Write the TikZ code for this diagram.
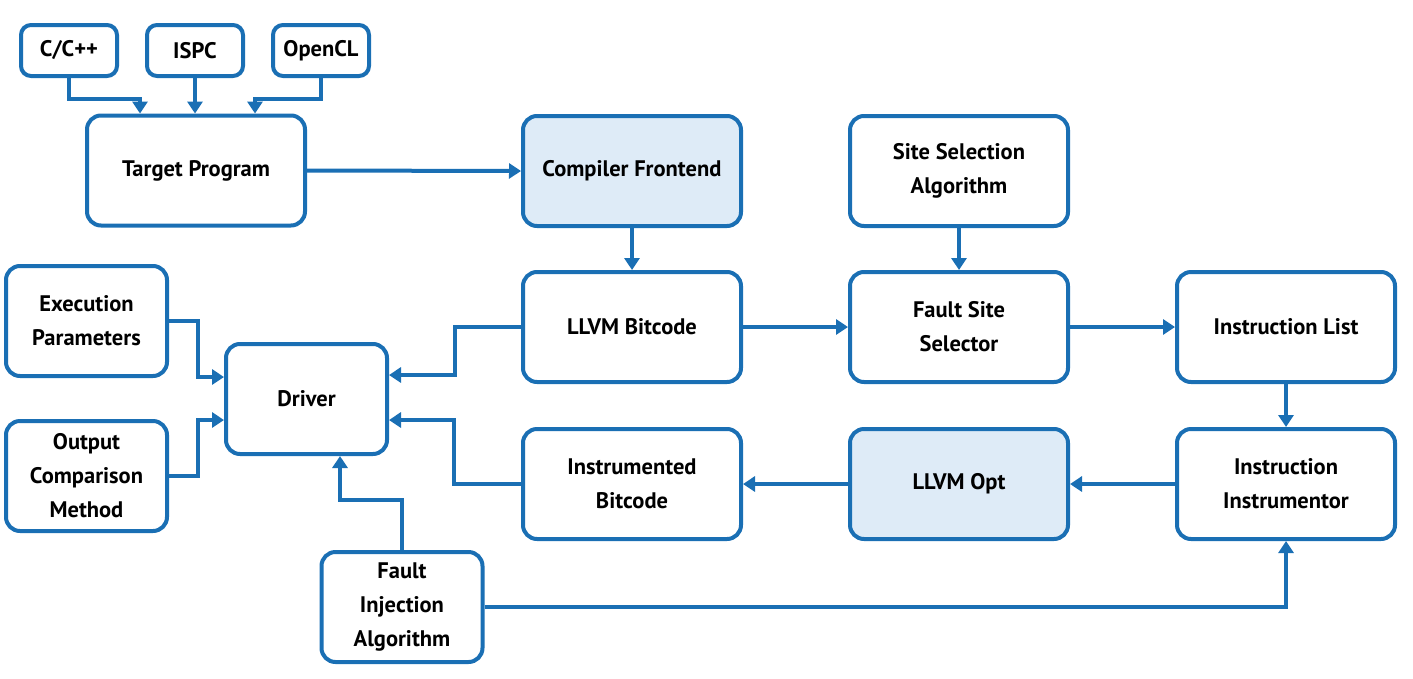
\documentclass[tikz,border=0pt]{standalone}
\usepackage{fontspec}
\setmainfont{PT Sans}
\usetikzlibrary{arrows.meta}
\definecolor{bblue}{HTML}{1A6FB4}
\definecolor{bfill}{HTML}{DEEBF7}
\begin{document}
\begin{tikzpicture}[x=1pt,y=-1pt,
  box/.style={draw=bblue, line width=4pt, rounded corners=14pt, fill=white,
    align=center, inner sep=0pt, font=\fontsize{22.5}{34}\selectfont\bfseries,
    minimum width=218pt, minimum height=110pt},
  small/.style={box, minimum width=96pt, minimum height=51pt, rounded corners=10pt},
  mid/.style={box, minimum width=161pt},
  hl/.style={fill=bfill},
  conn/.style={draw=bblue, line width=4pt, -{Triangle[length=12pt,width=15pt]}}]
\useasboundingbox (0,0) rectangle (1413,678);
% nodes
\node[small] (cpp) at (69,50.5) {C/C++};
\node[small] (ispc) at (195,50.5) {ISPC};
\node[small] (opencl) at (321,50.5) {OpenCL};
\node[box] (target) at (196,170.5) {Target Program};
\node[box,hl] (frontend) at (632,171) {Compiler Frontend};
\node[box] (sitesel) at (959,171) {Site Selection\\Algorithm};
\node[mid] (exec) at (86.5,321) {Execution\\Parameters};
\node[box] (bitcode) at (632,327) {LLVM Bitcode};
\node[box] (faultsite) at (959,327) {Fault Site\\Selector};
\node[box] (instlist) at (1286,327) {Instruction List};
\node[mid] (driver) at (306.5,399) {Driver};
\node[mid] (output) at (86.5,476) {Output\\Comparison\\Method};
\node[box] (instbc) at (632,484) {Instrumented\\Bitcode};
\node[box,hl] (opt) at (959,484) {LLVM Opt};
\node[box] (instr) at (1286,484) {Instruction\\Instrumentor};
\node[mid] (fault) at (402,607) {Fault\\Injection\\Algorithm};
% connectors
\draw[conn] (cpp.south) -- ++(0,21) -| ([xshift=-56pt]target.north);
\draw[conn] (ispc.south) -- (ispc.south |- target.north);
\draw[conn] (opencl.south) -- ++(0,21) -| ([xshift=59pt]target.north);
\draw[conn] (target.east) -- (frontend.west);
\draw[conn] (frontend.south) -- (bitcode.north);
\draw[conn] (bitcode.west) -- ++(-66,0) |- ([yshift=24pt]driver.east);
\draw[conn] (bitcode.east) -- (faultsite.west);
\draw[conn] (sitesel.south) -- (faultsite.north);
\draw[conn] (faultsite.east) -- (instlist.west);
\draw[conn] (instlist.south) -- (instr.north);
\draw[conn] (instr.west) -- (opt.east);
\draw[conn] (opt.west) -- (instbc.east);
\draw[conn] (instbc.west) -- ++(-67,0) |- ([yshift=-21pt]driver.east);
\draw[conn] (exec.east) -- ++(29,0) |- ([yshift=22pt]driver.west);
\draw[conn] (output.east) -- ++(29,0) |- ([yshift=-21pt]driver.west);
\draw[conn] (fault.north) -- ++(0,-50) -| ([xshift=33.5pt]driver.south);
\draw[conn] (fault.east) -| (instr.south);
\end{tikzpicture}
\end{document}
